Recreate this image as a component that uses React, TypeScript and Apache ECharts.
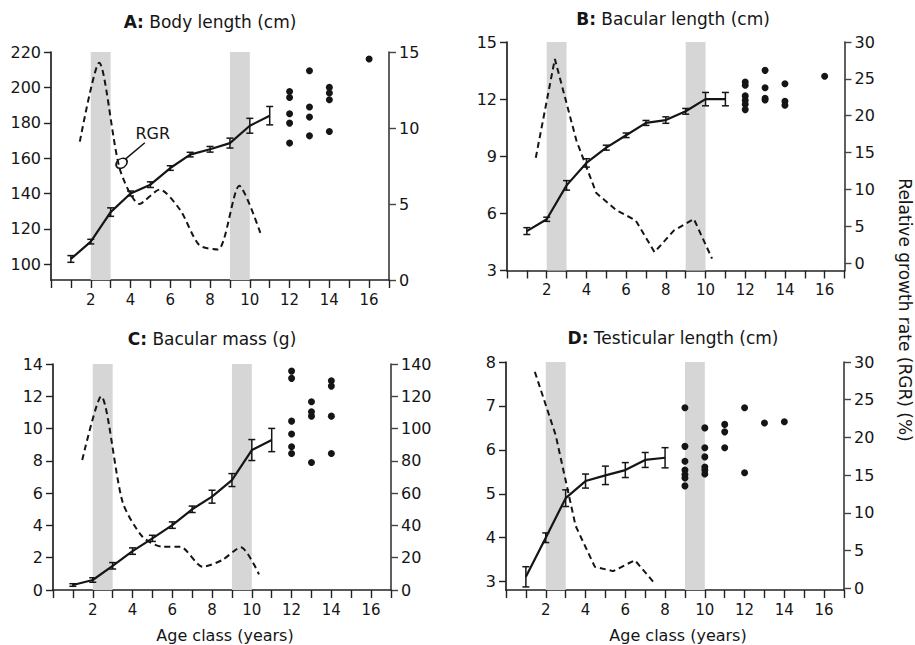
import React, { useEffect, useRef } from "react";
import * as echarts from "echarts";

const FONT = "DejaVu Sans";
const INK = "#151515";

// ---- shared x categories ----
const AGES = [1, 2, 3, 4, 5, 6, 7, 8, 9, 10, 11];
const AGES_D = [1, 2, 3, 4, 5, 6, 7, 8];
const X_LABELS = [2, 4, 6, 8, 10, 12, 14, 16];
const BANDS = [[2, 3], [9, 10]];

// ---- A: Body length (cm) ----
const A_MEAN = [103, 112.8, 129.5, 140, 145, 154.4, 162, 165, 168.5, 178.3, 184];
const A_SD = [1.9, 1.3, 2.4, 1.4, 1.6, 1.3, 1.3, 1.6, 2.8, 4.2, 5.2];
const A_RGR_X = [1.45, 2.42, 3.46, 4.45, 5.47, 6.5, 7.45, 8.4, 9.47, 10.53];
const A_RGR = [9.1, 14.3, 7.3, 5.0, 5.95, 4.6, 2.3, 2.0, 6.2, 3.1];
const A_OLD_AGES = [12, 13, 14, 16];
const A_OLD = [
  [197.7, 194.3, 185.1, 179.8, 168.5],
  [209.4, 188.9, 183.2, 172.6],
  [200, 196.8, 193, 175.1],
  [216],
];
const A_LEFT_TICKS = [100, 120, 140, 160, 180, 200, 220];
const A_RIGHT_TICKS = [0, 5, 10, 15];

// ---- B: Bacular length (cm) ----
const B_MEAN = [5.07, 5.69, 7.47, 8.65, 9.45, 10.1, 10.75, 10.9, 11.36, 12.0, 12.0];
const B_SD = [0.18, 0.11, 0.25, 0.22, 0.13, 0.12, 0.13, 0.17, 0.15, 0.35, 0.35];
const B_RGR_X = [1.45, 2.41, 3.5, 4.5, 5.5, 6.48, 7.43, 8.4, 9.41, 10.33];
const B_RGR = [14.3, 27.7, 16.6, 9.5, 7.2, 5.8, 1.5, 4.4, 6.0, 0.6];
const B_OLD_AGES = [12, 13, 14, 16];
const B_OLD = [
  [12.9, 12.73, 12.17, 11.94, 11.73, 11.45],
  [13.51, 12.6, 12.05, 11.95],
  [12.81, 11.89, 11.68],
  [13.2],
];
const B_LEFT_TICKS = [3, 6, 9, 12, 15];
const B_RIGHT_TICKS = [0, 5, 10, 15, 20, 25, 30];

// ---- C: Bacular mass (g) ----
const C_MEAN = [0.31, 0.62, 1.5, 2.41, 3.2, 4.02, 5.0, 5.78, 6.81, 8.67, 9.29];
const C_SD = [0.08, 0.14, 0.2, 0.2, 0.19, 0.2, 0.2, 0.4, 0.4, 0.65, 0.72];
const C_RGR_X = [1.47, 2.42, 3.5, 4.5, 5.5, 6.4, 7.53, 8.5, 9.45, 10.36];
const C_RGR = [80.5, 120, 54.5, 33, 26.8, 26.8, 14.4, 18.5, 26.5, 9.7];
const C_OLD_AGES = [12, 13, 14];
const C_OLD = [
  [13.56, 13.11, 10.46, 9.66, 8.87, 8.46],
  [11.66, 11.04, 10.77, 7.9],
  [12.96, 12.63, 10.77, 8.46],
];
const C_LEFT_TICKS = [0, 2, 4, 6, 8, 10, 12, 14];
const C_RIGHT_TICKS = [0, 20, 40, 60, 80, 100, 120, 140];

// ---- D: Testicular length (cm) ----
const D_MEAN = [3.11, 4.0, 4.9, 5.29, 5.42, 5.54, 5.77, 5.82];
const D_SD = [0.23, 0.11, 0.19, 0.16, 0.21, 0.17, 0.17, 0.23];
const D_RGR_X = [1.45, 2.5, 3.5, 4.47, 5.39, 6.48, 7.48];
const D_RGR = [28.7, 20.3, 8.3, 2.86, 2.3, 3.75, 0.66];
const D_OLD_AGES = [9, 10, 11, 12, 13, 14];
const D_OLD = [
  [6.96, 6.08, 5.74, 5.54, 5.44, 5.36, 5.18],
  [6.5, 6.05, 5.84, 5.61, 5.54, 5.45],
  [6.58, 6.41, 6.05],
  [6.96, 5.48],
  [6.61],
  [6.64],
];
const D_LEFT_TICKS = [3, 4, 5, 6, 7, 8];
const D_RIGHT_TICKS = [0, 5, 10, 15, 20, 25, 30];

type Panel = {
  letter: string;
  title: string;
  grid: { left: number; top: number; width: number; height: number };
  titlePos: [number, number];
  left: { min: number; max: number; ticks: number[] };
  right: { min: number; max: number; ticks: number[] };
  ages: number[];
  mean: number[];
  sd: number[];
  rgrX: number[];
  rgr: number[];
  oldAges: number[];
  old: number[][];
  smooth: number | boolean;
  annotate?: boolean;
};

const PANELS: Panel[] = [
  {
    letter: "A:",
    title: "Body length (cm)",
    grid: { left: 51, top: 52, width: 338, height: 228 },
    titlePos: [210, 22],
    left: { min: 91.1, max: 220, ticks: A_LEFT_TICKS },
    right: { min: 0, max: 15, ticks: A_RIGHT_TICKS },
    ages: AGES, mean: A_MEAN, sd: A_SD, rgrX: A_RGR_X, rgr: A_RGR,
    oldAges: A_OLD_AGES, old: A_OLD, smooth: 0.25, annotate: true,
  },
  {
    letter: "B:",
    title: "Bacular length (cm)",
    grid: { left: 507, top: 42, width: 337.5, height: 228.5 },
    titlePos: [673, 19],
    left: { min: 3, max: 15, ticks: B_LEFT_TICKS },
    right: { min: -1, max: 30, ticks: B_RIGHT_TICKS },
    ages: AGES, mean: B_MEAN, sd: B_SD, rgrX: B_RGR_X, rgr: B_RGR,
    oldAges: B_OLD_AGES, old: B_OLD, smooth: false,
  },
  {
    letter: "C:",
    title: "Bacular mass (g)",
    grid: { left: 53, top: 364, width: 338, height: 226 },
    titlePos: [212, 339],
    left: { min: 0, max: 14, ticks: C_LEFT_TICKS },
    right: { min: 0, max: 140, ticks: C_RIGHT_TICKS },
    ages: AGES, mean: C_MEAN, sd: C_SD, rgrX: C_RGR_X, rgr: C_RGR,
    oldAges: C_OLD_AGES, old: C_OLD, smooth: 0.25,
  },
  {
    letter: "D:",
    title: "Testicular length (cm)",
    grid: { left: 506, top: 362, width: 338, height: 228 },
    titlePos: [673, 338],
    left: { min: 2.81, max: 8, ticks: D_LEFT_TICKS },
    right: { min: -0.2, max: 30, ticks: D_RIGHT_TICKS },
    ages: AGES_D, mean: D_MEAN, sd: D_SD, rgrX: D_RGR_X, rgr: D_RGR,
    oldAges: D_OLD_AGES, old: D_OLD, smooth: false,
  },
];

function buildOption() {
  const grid: any[] = [];
  const xAxis: any[] = [];
  const yAxis: any[] = [];
  const series: any[] = [];
  const graphic: any[] = [];

  PANELS.forEach((p, i) => {
    grid.push({ ...p.grid, containLabel: false });
    xAxis.push({
      type: "value",
      gridIndex: i,
      min: 0,
      max: 17,
      interval: 1,
      axisLine: { show: true, onZero: false, lineStyle: { color: "#222", width: 1.7 } },
      axisTick: { show: true, length: 8, lineStyle: { color: "#222", width: 1.4 } },
      axisLabel: {
        interval: 0,
        fontSize: 15,
        fontFamily: FONT,
        color: INK,
        margin: 12,
        formatter: (v: number) => (X_LABELS.indexOf(v) >= 0 ? String(v) : ""),
      },
      splitLine: { show: false },
    });
    const yAx = (side: "left" | "right", cfg: { min: number; max: number; ticks: number[] }, color: string) => ({
      type: "value",
      gridIndex: i,
      position: side,
      min: cfg.min,
      max: cfg.max,
      axisLine: { show: true, onZero: false, lineStyle: { color, width: 1.7 } },
      axisTick: { show: true, length: 7, customValues: cfg.ticks, lineStyle: { color, width: 1.4 } },
      axisLabel: { customValues: cfg.ticks, fontSize: 16, fontFamily: FONT, color: INK, margin: 10 },
      splitLine: { show: false },
    });
    yAxis.push(yAx("left", p.left, "#222"));
    yAxis.push(yAx("right", p.right, "#444"));
    const yl = i * 2;
    const yr = i * 2 + 1;

    // mean line with shaded bands
    series.push({
      type: "line",
      xAxisIndex: i,
      yAxisIndex: yl,
      data: p.ages.map((a, k) => [a, p.mean[k]]),
      symbol: "none",
      lineStyle: { color: INK, width: 2.2 },
      z: 3,
      markArea: {
        silent: true,
        itemStyle: { color: "#d6d6d6", opacity: 1 },
        data: BANDS.map((b) => [{ xAxis: b[0] }, { xAxis: b[1] }]),
      },
    });
    // error bars
    series.push({
      type: "custom",
      xAxisIndex: i,
      yAxisIndex: yl,
      z: 4,
      data: p.ages.map((a, k) => [a, p.mean[k], p.sd[k]]),
      encode: { x: 0, y: 1 },
      renderItem: (_params: any, api: any) => {
        const x = api.value(0);
        const m = api.value(1);
        const e = api.value(2);
        const top = api.coord([x, m + e]);
        const bot = api.coord([x, m - e]);
        const w = 3.5;
        const st = { stroke: INK, lineWidth: 1.5 };
        return {
          type: "group",
          children: [
            { type: "line", shape: { x1: top[0], y1: top[1], x2: bot[0], y2: bot[1] }, style: st },
            { type: "line", shape: { x1: top[0] - w, y1: top[1], x2: top[0] + w, y2: top[1] }, style: st },
            { type: "line", shape: { x1: bot[0] - w, y1: bot[1], x2: bot[0] + w, y2: bot[1] }, style: st },
          ],
        };
      },
    });
    // individual older animals
    const pts: number[][] = [];
    p.oldAges.forEach((a, k) => p.old[k].forEach((v) => pts.push([a, v])));
    series.push({
      type: "scatter",
      xAxisIndex: i,
      yAxisIndex: yl,
      data: pts,
      symbol: "circle",
      symbolSize: 7,
      itemStyle: { color: INK, opacity: 1 },
      z: 4,
    });
    // RGR dashed line
    const rgrSeries: any = {
      type: "line",
      xAxisIndex: i,
      yAxisIndex: yr,
      data: p.rgrX.map((x, k) => [x, p.rgr[k]]),
      symbol: "none",
      smooth: p.smooth,
      lineStyle: { color: INK, width: 2, type: [6, 4] },
      z: 3,
    };
    if (p.annotate) {
      rgrSeries.markPoint = {
        silent: true,
        data: [
          {
            coord: [3.55, 7.68],
            symbol: "circle",
            symbolSize: [12, 9],
            symbolRotate: 35,
            itemStyle: { color: "rgba(255,255,255,0)", borderColor: INK, borderWidth: 1.5 },
            label: { show: false },
          },
          {
            coord: [5.12, 9.67],
            symbol: "rect",
            symbolSize: 1,
            itemStyle: { color: "rgba(255,255,255,0)" },
            label: { show: true, position: "inside", formatter: "RGR", fontSize: 16, fontFamily: FONT, color: INK },
          },
        ],
      };
      rgrSeries.markLine = {
        silent: true,
        symbol: ["none", "none"],
        label: { show: false },
        lineStyle: { type: "solid", color: INK, width: 1.5 },
        data: [[{ coord: [3.74, 7.95] }, { coord: [4.72, 9.03] }]],
      };
    }
    series.push(rgrSeries);

    graphic.push({
      type: "text",
      x: p.titlePos[0],
      y: p.titlePos[1],
      style: {
        text: `{b|${p.letter}} ${p.title}`,
        fontSize: 17,
        fontFamily: FONT,
        fill: INK,
        align: "center",
        verticalAlign: "middle",
        rich: { b: { fontWeight: "bold", fontSize: 17, fontFamily: FONT, fill: INK } },
      },
    });
  });

  graphic.push({
    type: "text",
    x: 225,
    y: 635,
    style: { text: "Age class (years)", fontSize: 16, fontFamily: FONT, fill: INK, align: "center", verticalAlign: "middle" },
  });
  graphic.push({
    type: "text",
    x: 678,
    y: 635,
    style: { text: "Age class (years)", fontSize: 16, fontFamily: FONT, fill: INK, align: "center", verticalAlign: "middle" },
  });
  graphic.push({
    type: "text",
    x: 905,
    y: 310,
    rotation: -Math.PI / 2,
    style: {
      text: "Relative growth rate (RGR) (%)",
      fontSize: 17,
      fontFamily: FONT,
      fill: INK,
      align: "center",
      verticalAlign: "middle",
    },
  });

  return {
    animation: false,
    backgroundColor: "#ffffff",
    textStyle: { fontFamily: FONT },
    grid,
    xAxis,
    yAxis,
    series,
    graphic,
  };
}

export default function App() {
  const ref = useRef<HTMLDivElement>(null);
  useEffect(() => {
    if (!ref.current) return;
    const chart = echarts.init(ref.current, undefined, { renderer: "svg" });
    chart.setOption(buildOption() as any);
    return () => chart.dispose();
  }, []);
  return (
    <div
      ref={ref}
      style={{ position: "absolute", left: 0, top: 0, width: 915, height: 645, background: "#fff" }}
    />
  );
}
